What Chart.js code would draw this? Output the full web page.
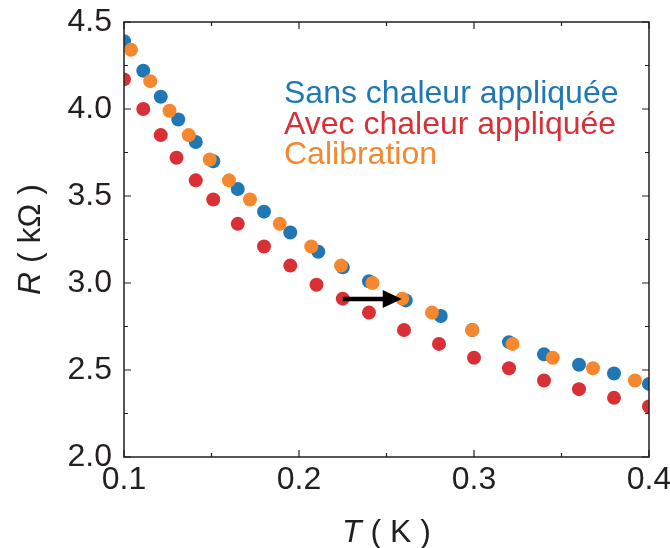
<!DOCTYPE html>
<html>
<head>
<meta charset="utf-8">
<script src="https://cdn.jsdelivr.net/npm/chart.js@4"></script>
<style>
  body { margin: 0; background: #fff; }
  #wrap { width: 670px; height: 548px; position: relative; }
</style>
</head>
<body>
<div id="wrap"><canvas id="myChart"></canvas></div>
<script>
// donnees
var tSans = [0.100, 0.111, 0.121, 0.131, 0.141, 0.151, 0.165, 0.180, 0.195, 0.211, 0.225, 0.240, 0.261, 0.281, 0.299, 0.320, 0.340, 0.360, 0.380, 0.400];
var rSans = [4.39, 4.22, 4.07, 3.94, 3.81, 3.70, 3.54, 3.41, 3.29, 3.18, 3.09, 3.01, 2.90, 2.81, 2.73, 2.66, 2.59, 2.53, 2.48, 2.42];

var tAvec = [0.100, 0.111, 0.121, 0.130, 0.141, 0.151, 0.165, 0.180, 0.195, 0.210, 0.225, 0.240, 0.260, 0.280, 0.300, 0.320, 0.340, 0.360, 0.380, 0.400];
var rAvec = [4.17, 4.00, 3.85, 3.72, 3.59, 3.48, 3.34, 3.21, 3.10, 2.99, 2.91, 2.83, 2.73, 2.65, 2.57, 2.51, 2.44, 2.39, 2.34, 2.29];

var tCal = [0.104, 0.115, 0.126, 0.137, 0.149, 0.160, 0.172, 0.189, 0.207, 0.224, 0.242, 0.259, 0.276, 0.299, 0.322, 0.345, 0.368, 0.392];
var rCal = [4.34, 4.16, 3.99, 3.85, 3.71, 3.59, 3.48, 3.34, 3.21, 3.10, 3.00, 2.91, 2.83, 2.73, 2.65, 2.57, 2.51, 2.44];

var labels = ["Sans chaleur appliquée", "Avec chaleur appliquée", "Calibration"];
var colors = ["#1f78b5", "#d93036", "#f5882f"];

var xTicks = [0.1, 0.2, 0.3, 0.4];
var xMinor = [0.15, 0.25, 0.35];
var yTicks = [2.0, 2.5, 3.0, 3.5, 4.0, 4.5];
var yMinor = [2.25, 2.75, 3.25, 3.75, 4.25];

// fleche (de la courbe rouge vers la calibration)
var arrowFrom = [0.225, 2.908];
var arrowTo = [0.2587, 2.908];

var FONT = "'Liberation Sans', Arial, Helvetica, sans-serif";
var INK = "#231f20";

function pts(xs, ys) {
    return xs.map(function(x, i) { return { x: x, y: ys[i] }; });
}

var extras = {
    id: "extras",
    afterDatasetsDraw: function(chart) {
        var ctx = chart.ctx;
        var xs = chart.scales.x, ys = chart.scales.y;
        var a = chart.chartArea;

        // fleche
        var x0 = xs.getPixelForValue(arrowFrom[0]), y0 = ys.getPixelForValue(arrowFrom[1]);
        var x1 = xs.getPixelForValue(arrowTo[0]), y1 = ys.getPixelForValue(arrowTo[1]);
        ctx.save();
        ctx.strokeStyle = "#000";
        ctx.fillStyle = "#000";
        ctx.lineWidth = 4.5;
        ctx.beginPath();
        ctx.moveTo(x0, y0);
        ctx.lineTo(x1 - 16, y1);
        ctx.stroke();
        ctx.beginPath();
        ctx.moveTo(x1, y1);
        ctx.lineTo(x1 - 19, y1 - 9);
        ctx.lineTo(x1 - 19, y1 + 9);
        ctx.closePath();
        ctx.fill();
        ctx.restore();

        // cadre + graduations vers l'interieur
        ctx.save();
        ctx.strokeStyle = INK;
        ctx.lineWidth = 1.5;
        ctx.strokeRect(a.left, a.top, a.right - a.left, a.bottom - a.top);
        ctx.lineWidth = 1.2;
        ctx.beginPath();
        function xt(list, len) {
            list.forEach(function(v) {
                var p = xs.getPixelForValue(v);
                ctx.moveTo(p, a.bottom); ctx.lineTo(p, a.bottom - len);
                ctx.moveTo(p, a.top); ctx.lineTo(p, a.top + len);
            });
        }
        function yt(list, len) {
            list.forEach(function(v) {
                var p = ys.getPixelForValue(v);
                ctx.moveTo(a.left, p); ctx.lineTo(a.left + len, p);
                ctx.moveTo(a.right, p); ctx.lineTo(a.right - len, p);
            });
        }
        xt(xTicks, 7); xt(xMinor, 4);
        yt(yTicks, 7); yt(yMinor, 4);
        ctx.stroke();
        ctx.restore();

        // legende dans le graphe
        ctx.save();
        ctx.font = "32px " + FONT;
        ctx.textAlign = "left";
        ctx.textBaseline = "alphabetic";
        var base = [103, 134, 164];
        labels.forEach(function(l, i) {
            ctx.fillStyle = colors[i];
            ctx.fillText(l, 284, base[i]);
        });
        ctx.restore();

        // titres des axes (variable en italique)
        ctx.save();
        ctx.fillStyle = INK;
        ctx.textBaseline = "alphabetic";
        ctx.textAlign = "left";
        var cx = (a.left + a.right) / 2;
        ctx.font = "italic 32px " + FONT;
        var wT = ctx.measureText("T").width;
        ctx.font = "32px " + FONT;
        var wK = ctx.measureText(" ( K )").width;
        var sx = cx - (wT + wK) / 2;
        ctx.font = "italic 32px " + FONT;
        ctx.fillText("T", sx, 542);
        ctx.font = "32px " + FONT;
        ctx.fillText(" ( K )", sx + wT, 542);

        var cy = (a.top + a.bottom) / 2;
        ctx.translate(40, cy);
        ctx.rotate(-Math.PI / 2);
        ctx.font = "italic 32px " + FONT;
        var wR = ctx.measureText("R").width;
        ctx.font = "32px " + FONT;
        var wO = ctx.measureText(" ( k\u03A9 )").width;
        var sy = -(wR + wO) / 2;
        ctx.font = "italic 32px " + FONT;
        ctx.fillText("R", sy, 0);
        ctx.font = "32px " + FONT;
        ctx.fillText(" ( k\u03A9 )", sy + wR, 0);
        ctx.restore();
    }
};

var ctx = document.getElementById("myChart").getContext("2d");
var myChart = new Chart(ctx, {
    type: "scatter",
    data: {
        datasets: [
            { label: labels[2], data: pts(tCal, rCal), backgroundColor: colors[2], order: 0 },
            { label: labels[0], data: pts(tSans, rSans), backgroundColor: colors[0], order: 1 },
            { label: labels[1], data: pts(tAvec, rAvec), backgroundColor: colors[1], order: 2 }
        ]
    },
    options: {
        responsive: true,
        maintainAspectRatio: false,
        animation: false,
        layout: { padding: { top: 22, right: 21, left: 0, bottom: 0 } },
        elements: { point: { radius: 7, borderWidth: 0, hoverRadius: 7 } },
        datasets: { scatter: { clip: 0 } },
        plugins: { legend: { display: false }, tooltip: { enabled: false } },
        scales: {
            x: {
                type: "linear", min: 0.1, max: 0.4,
                grid: { display: false, drawTicks: false },
                border: { display: false },
                afterBuildTicks: function(s) { s.ticks = xTicks.map(function(v) { return { value: v }; }); },
                afterFit: function(s) { s.height = 91; s.paddingLeft = 0; s.paddingRight = 0; },
                ticks: {
                    padding: 4, color: INK, maxRotation: 0, autoSkip: false,
                    font: { family: FONT, size: 32 },
                    callback: function(v) { return Number(v).toFixed(1); }
                }
            },
            y: {
                type: "linear", min: 2.0, max: 4.5,
                grid: { display: false, drawTicks: false },
                border: { display: false },
                afterBuildTicks: function(s) { s.ticks = yTicks.map(function(v) { return { value: v }; }); },
                afterFit: function(s) { s.width = 124; s.paddingTop = 0; s.paddingBottom = 0; },
                ticks: {
                    padding: 12, color: INK, autoSkip: false,
                    font: { family: FONT, size: 32 },
                    callback: function(v) { return Number(v).toFixed(1); }
                }
            }
        }
    },
    plugins: [extras]
});
</script>
</body>
</html>
